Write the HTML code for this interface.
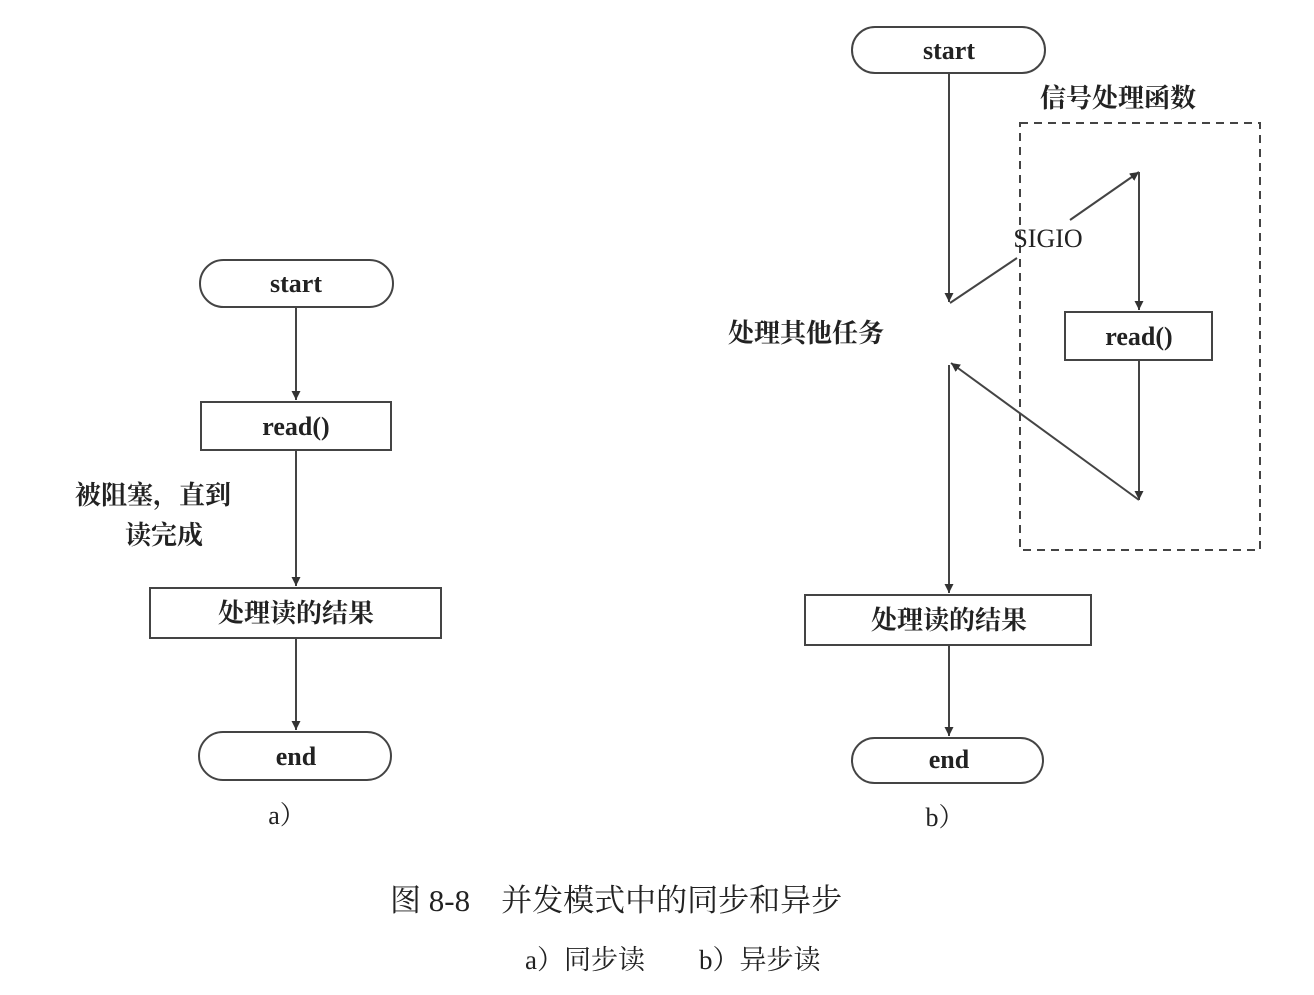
<!DOCTYPE html>
<html><head><meta charset="utf-8"><style>
html,body{margin:0;padding:0;background:#fff;}
svg{display:block;}
text{font-family:"Liberation Serif","Noto Serif CJK SC",serif;fill:#222;}
.b{font-weight:bold;}
</style></head><body>
<svg width="1314" height="995" viewBox="0 0 1314 995" xmlns="http://www.w3.org/2000/svg">
<defs><marker id="a" viewBox="0 0 10 10" refX="10" refY="5" markerWidth="9" markerHeight="9" orient="auto-start-reverse" markerUnits="userSpaceOnUse"><path d="M0,0 L10,5 L0,10 z" fill="#333"/></marker></defs>
<g stroke="#444" stroke-width="2" fill="none">
<!-- left -->
<rect x="200" y="260" width="193" height="47" rx="23.5"/>
<rect x="201" y="402" width="190" height="48"/>
<rect x="150" y="588" width="291" height="50"/>
<rect x="199" y="732" width="192" height="48" rx="24"/>
<line x1="296" y1="307" x2="296" y2="400" marker-end="url(#a)"/>
<line x1="296" y1="450" x2="296" y2="586" marker-end="url(#a)"/>
<line x1="296" y1="638" x2="296" y2="730" marker-end="url(#a)"/>
<!-- right -->
<rect x="852" y="27" width="193" height="46" rx="23"/>
<rect x="1065" y="312" width="147" height="48"/>
<rect x="805" y="595" width="286" height="50"/>
<rect x="852" y="738" width="191" height="45" rx="22.5"/>
<rect x="1020" y="123" width="240" height="427" stroke-dasharray="8,6"/>
<line x1="949" y1="73" x2="949" y2="302" marker-end="url(#a)"/>
<line x1="950" y1="303" x2="1017" y2="258"/>
<line x1="1070" y1="220" x2="1139" y2="172" marker-end="url(#a)"/>
<line x1="1139" y1="172" x2="1139" y2="310" marker-end="url(#a)"/>
<line x1="1139" y1="360" x2="1139" y2="500" marker-end="url(#a)"/>
<line x1="1139" y1="500" x2="951" y2="363" marker-end="url(#a)"/>
<line x1="949" y1="365" x2="949" y2="593" marker-end="url(#a)"/>
<line x1="949" y1="645" x2="949" y2="736" marker-end="url(#a)"/>
</g>
<g font-size="26" text-anchor="middle">
<text x="296" y="292" class="b">start</text>
<text x="296" y="435" class="b">read()</text>
<text x="296" y="622" class="b">处理读的结果</text>
<text x="296" y="765" class="b">end</text>
<text x="287" y="824">a）</text>
<text x="949" y="59" class="b">start</text>
<text x="1139" y="345" class="b">read()</text>
<text x="949" y="629" class="b">处理读的结果</text>
<text x="949" y="768" class="b">end</text>
<text x="945" y="826">b）</text>
<text x="1048" y="247">SIGIO</text>
</g>
<g font-size="26" class="b">
<text x="75" y="504" class="b">被阻塞，直到</text>
<text x="125" y="544" class="b">读完成</text>
<text x="728" y="342" class="b">处理其他任务</text>
<text x="1040" y="107" class="b">信号处理函数</text>
</g>
<text x="390" y="911" font-size="31">图 8-8　并发模式中的同步和异步</text>
<text x="525" y="969" font-size="27">a）同步读　　b）异步读</text>
</svg>
</body></html>
